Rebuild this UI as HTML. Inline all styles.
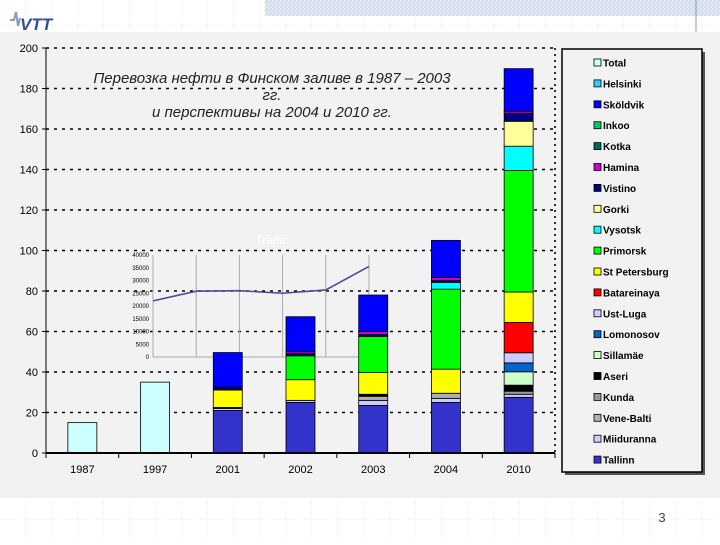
<!DOCTYPE html>
<html><head><meta charset="utf-8"><style>
body{margin:0;width:720px;height:540px;overflow:hidden;background:#fff;font-family:"Liberation Sans",sans-serif}
svg text{font-family:"Liberation Sans","Noto Sans CJK SC",sans-serif}
</style></head><body>
<svg id="c" width="720" height="540" xmlns="http://www.w3.org/2000/svg">
<defs>
<pattern id="grid" width="26" height="26" patternUnits="userSpaceOnUse"><path d="M26 0V26M0 26H26" stroke="#d8d8d8" stroke-dasharray="1,2" fill="none"/></pattern>
<pattern id="hatch" width="4" height="4" patternUnits="userSpaceOnUse"><rect width="4" height="4" fill="#e4eaf4"/><path d="M0 4L4 0" stroke="#c6d2e6"/></pattern>
</defs>
<rect width="720" height="540" fill="url(#grid)"/>
<rect x="265" y="0" width="455" height="16" fill="url(#hatch)"/>
<line x1="696" y1="0" x2="696" y2="32" stroke="#8899bb"/>
<g>
<path d="M10 20 L14 20 L16 12 L18 26 L20 18" stroke="#7f9bc4" stroke-width="2" fill="none"/>
<text x="20" y="30" font-size="17" font-weight="bold" font-style="italic" fill="#2f4f8f">VTT</text>
</g>
<rect x="0" y="32" width="720" height="466" fill="#f2f2f2"/>
<g id="plot"></g>
<text x="662" y="522" font-size="13" fill="#444" text-anchor="middle">3</text>
</svg>
<script>
const years=['1987','1997','2001','2002','2003','2004','2010'];
const seriesNames=['Tallinn','Miiduranna','Vene-Balti','Kunda','Aseri','Sillamäe','Lomonosov','Ust-Luga','Batareinaya','St Petersburg','Primorsk','Vysotsk','Gorki','Vistino','Hamina','Kotka','Inkoo','Sköldvik','Helsinki','Total'];
const seriesColors=['#3333cc','#ccccff','#b0b0b0','#999999','#000000','#ccffcc','#0066cc','#ccccff','#ff0000','#ffff00','#00ff00','#00ffff','#ffff99','#000080','#cc00cc','#006666','#00cc66','#0000ff','#33ccff','#ccffff'];
const tallinn=[0,0,21,25,23.5,25,27.5];
const miiduranna=[0,0,1,1,2.5,2,1.5];
const veneBalti=[0,0,0.5,0,2,2.5,0];
const kunda=[0,0,0,0,0,0,1.5];
const aseri=[0,0,0,0,1,0,3];
const sillamae=[0,0,0,0,0,0,6.6];
const lomonosov=[0,0,0,0,0,0,4.4];
const ustLuga=[0,0,0,0,0,0,5];
const batareinaya=[0,0,0,0,0,0,15];
const stPetersburg=[0,0,8.6,10.2,10.7,11.9,15];
const primorsk=[0,0,0,11.8,17.8,39.5,60];
const vysotsk=[0,0,0,0,0,3.3,12];
const gorki=[0,0,0,0,0,0,12.3];
const vistino=[0,0,1.5,1,1,1,4];
const hamina=[0,0,0,1,1.5,1.5,1];
const kotka=[0,0,0,0,0,0,0];
const inkoo=[0,0,0,0,0,0,0];
const skoldvik=[0,0,17,17.3,18,18.3,21];
const helsinki=[0,0,0,0,0,0,0];
const total=[15,35,0,0,0,0,0];
const series=[tallinn,miiduranna,veneBalti,kunda,aseri,sillamae,lomonosov,ustLuga,batareinaya,stPetersburg,primorsk,vysotsk,gorki,vistino,hamina,kotka,inkoo,skoldvik,helsinki,total];
const yTicks=[0,20,40,60,80,100,120,140,160,180,200];
const insetYears=['1996','1997','1998','1999','2000','2001'];
const insetValues=[22000,25800,26000,25000,26300,35500];
const insetTicks=[0,5000,10000,15000,20000,25000,30000,35000,40000];

const NS='http://www.w3.org/2000/svg';
const g=document.getElementById('plot');
function el(t,a,p){const e=document.createElementNS(NS,t);for(const k in a)e.setAttribute(k,a[k]);(p||g).appendChild(e);return e;}
const X0=46,X1=555,Y0=453,Y1=48;
const band=(X1-X0)/years.length;
const xc=i=>X0+band*(i+0.5);
const y=v=>Y0-(v/200)*(Y0-Y1);

// gridlines & y labels
yTicks.forEach(t=>{
 if(t>0){const l=el('line',{x1:X0,x2:X1,y1:y(t),y2:y(t),stroke:'#000','stroke-width':1.6,'stroke-dasharray':'3,5'});
 
 }
 const tk=el('line',{x1:X0-4,x2:X0,y1:y(t),y2:y(t),stroke:'#000'});
 
 
 const tx=el('text',{x:X0-8,y:y(t)+4,'font-size':11,'text-anchor':'end'});tx.textContent=t;
 
 
});
const rb=el('line',{x1:X1,x2:X1,y1:Y1,y2:Y0,stroke:'#000','stroke-width':1.6,'stroke-dasharray':'2,4'});



// inset
const IX0=153,IX1=369,IY0=357,IY1=255;
const ix=i=>IX0+(IX1-IX0)*i/(insetYears.length-1);
const iy=v=>IY0-(v/40000)*(IY0-IY1);
const ig=el('g',{});


insetYears.forEach((yr,i)=>{if(i>0){const l=el('line',{x1:ix(i),x2:ix(i),y1:IY1,y2:IY0,stroke:'#aaa'},ig);
 
 }});
el('line',{x1:IX0,x2:IX0,y1:IY1,y2:IY0,stroke:'#aaa'},ig);
el('line',{x1:IX0,x2:IX1,y1:IY0,y2:IY0,stroke:'#aaa'},ig);
insetTicks.forEach(t=>{const tx=el('text',{x:IX0-4,y:iy(t)+2,'font-size':6,'text-anchor':'end'},ig);tx.textContent=t;
 
 });
const ip=el('polyline',{points:insetValues.map((v,i)=>ix(i)+','+iy(v)).join(' '),fill:'none',stroke:'#4b4b9b','stroke-width':1.6},ig);


const itt=el('text',{x:272,y:244,'font-size':12,fill:'#fff','text-anchor':'middle'},ig);itt.textContent='Traffic';



// bars
const BW=29;
years.forEach((yr,i)=>{
 let acc=0;
 series.forEach((s,k)=>{
  const v=s[i];if(!v)return;
  const r=el('rect',{x:xc(i)-BW/2,y:y(acc+v),width:BW,height:y(acc)-y(acc+v),fill:seriesColors[k],stroke:'#000','stroke-width':0.8});
  
  
  acc+=v;
 });
 const xl=el('text',{x:xc(i),y:Y0+20,'font-size':11,'text-anchor':'middle'});xl.textContent=yr;
 
 
});
for(let i=0;i<=years.length;i++){const t=el('line',{x1:X0+band*i,x2:X0+band*i,y1:Y0,y2:Y0+5,stroke:'#000'});
 
 }
const ax=el('line',{x1:X0,x2:X1,y1:Y0,y2:Y0,stroke:'#000','stroke-width':2});


const ay=el('line',{x1:X0,x2:X0,y1:Y1,y2:Y0,stroke:'#000'});



// title
const tt=el('text',{x:272,y:83,'font-size':15,'font-style':'italic','text-anchor':'middle',fill:'#222'});


['Перевозка нефти в Финском заливе в 1987 – 2003','гг.','и перспективы на 2004 и 2010 гг.'].forEach((s,i)=>{const ts=el('tspan',{x:272,dy:i?17:0},tt);ts.textContent=s;});

// legend
const lg=el('g',{});


el('rect',{x:565,y:52,width:140,height:423,fill:'#555'},lg);
el('rect',{x:562,y:49,width:140,height:423,fill:'#f2f2f2',stroke:'#000','stroke-width':1.5},lg);
const order=seriesNames.slice().reverse();
const ocol=seriesColors.slice().reverse();
order.forEach((n,j)=>{
 const yy=63+j*20.9;
 const e=el('g',{},lg);
 
 
 el('rect',{x:594,y:yy-4,width:7,height:7,fill:ocol[j],stroke:'#000','stroke-width':0.8},e);
 const t=el('text',{x:603,y:yy+3.5,'font-size':10,'font-weight':'bold'},e);t.textContent=n;
});
</script>
</body></html>
